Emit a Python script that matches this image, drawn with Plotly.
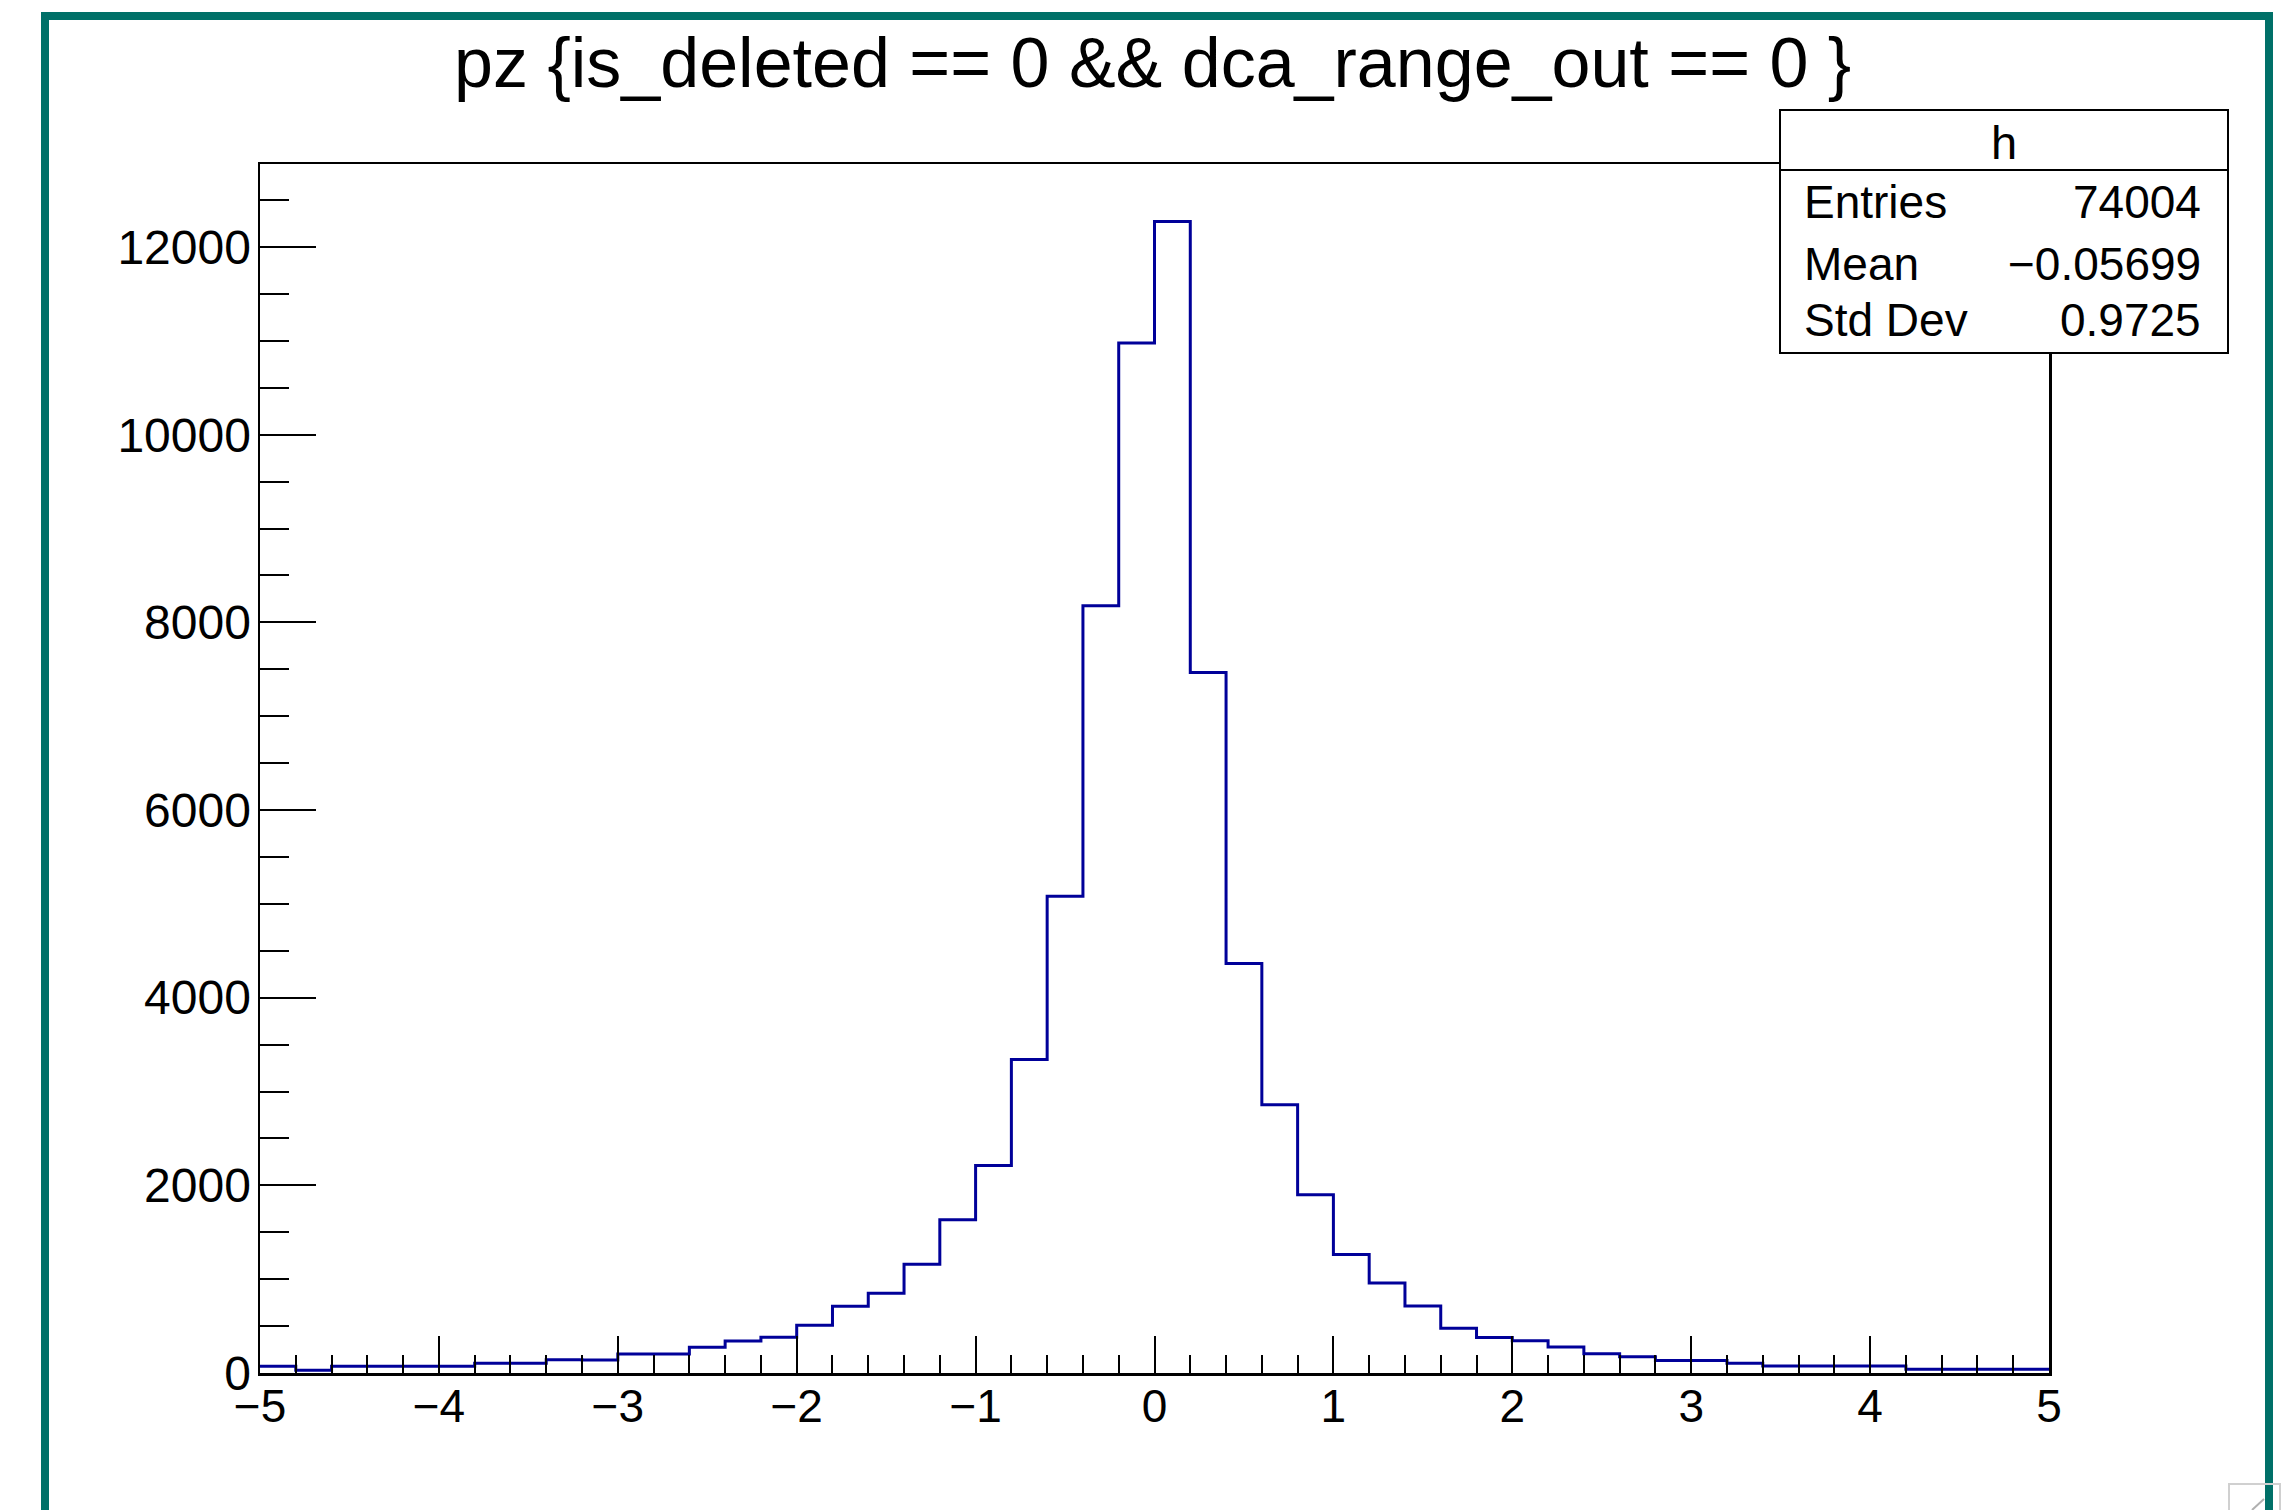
import numpy as np
import plotly.graph_objects as go

# ---------------- data ----------------
x_min, x_max, n_bins = -5.0, 5.0, 50
counts = [71, 28, 71, 71, 71, 71, 103, 103, 142, 138,
          202, 202, 275, 340, 380, 510, 712, 850, 1160, 1633,
          2212, 3340, 5080, 8178, 10978, 12272, 7466, 4364, 2858, 1900,
          1262, 958, 714, 477, 378, 343, 276, 205, 173, 134,
          134, 103, 74, 74, 74, 74, 39, 39, 39, 39]
title_text = "pz {is_deleted == 0 && dca_range_out == 0 }"
stats_name = "h"
stats_labels = ["Entries", "Mean", "Std Dev"]
stats_values = ["74004", "\u22120.05699", "0.9725"]
y_max = 12885

edges = np.linspace(x_min, x_max, n_bins + 1)
xs = list(edges[:-1]) + [edges[-1]]
ys = list(counts) + [counts[-1]]

# ---------------- geometry (pixels) ----------------
W, H = 2295, 1510
L, R, T, B = 260, 2049, 164, 1373
PW, PH = R - L, B - T


def px(x):
    return (x - L) / PW


def py(y):
    return (B - y) / PH


FONT = "Liberation Sans, Arial, Helvetica, sans-serif"
TEAL = "rgb(0,112,104)"

fig = go.Figure()
fig.add_trace(go.Scatter(x=xs, y=ys, mode="lines", line_shape="hv",
                         line=dict(color="#000099", width=3),
                         hoverinfo="skip", showlegend=False))

shapes = []
# teal outer frame
for (x0, y0, x1, y1) in [(41, 12, 49, 1530), (41, 12, 2273, 20), (2265, 12, 2273, 1530)]:
    shapes.append(dict(type="rect", xref="paper", yref="paper",
                       x0=px(x0), x1=px(x1), y0=py(y0), y1=py(y1),
                       fillcolor=TEAL, line=dict(width=0), layer="above"))
# stats box
sx0, sx1, sy0, sy1, sdiv = 1780, 2228, 110, 353, 170
shapes.append(dict(type="rect", xref="paper", yref="paper",
                   x0=px(sx0), x1=px(sx1), y0=py(sy0), y1=py(sy1),
                   fillcolor="white", line=dict(color="black", width=2), layer="above"))
shapes.append(dict(type="line", xref="paper", yref="paper",
                   x0=px(sx0), x1=px(sx1), y0=py(sdiv), y1=py(sdiv),
                   line=dict(color="black", width=2), layer="above"))
# small resize handle bottom-right
shapes.append(dict(type="rect", xref="paper", yref="paper",
                   x0=px(2229), x1=px(2280), y0=py(1484), y1=py(1530),
                   fillcolor="rgba(0,0,0,0)", line=dict(color="#d0d0d0", width=2), layer="above"))
shapes.append(dict(type="line", xref="paper", yref="paper",
                   x0=px(2252), x1=px(2264), y0=py(1510), y1=py(1499),
                   line=dict(color="#b0b0b0", width=2), layer="above"))

annotations = [
    dict(text=title_text, xref="paper", yref="paper", x=px(1152), y=py(63),
         xanchor="center", yanchor="middle", showarrow=False,
         font=dict(family=FONT, size=70, color="black")),
    dict(text=stats_name, xref="paper", yref="paper", x=px((sx0 + sx1) / 2), y=py(143),
         xanchor="center", yanchor="middle", showarrow=False,
         font=dict(family=FONT, size=47, color="black")),
]
row_y = [202, 264, 320]
for lab, val, yy in zip(stats_labels, stats_values, row_y):
    annotations.append(dict(text=lab, xref="paper", yref="paper", x=px(1802), y=py(yy),
                            xanchor="left", yanchor="middle", showarrow=False,
                            font=dict(family=FONT, size=46, color="black")))
    annotations.append(dict(text=val, xref="paper", yref="paper", x=px(2203), y=py(yy),
                            xanchor="right", yanchor="middle", showarrow=False,
                            font=dict(family=FONT, size=46, color="black")))

axis_common = dict(showline=True, linecolor="black", linewidth=2.5, mirror=True,
                   ticks="inside", tickcolor="black", tickwidth=2,
                   showgrid=False, zeroline=False)

fig.update_layout(
    width=W, height=H, autosize=False,
    margin=dict(l=L, r=W - R, t=T, b=H - B, pad=0),
    paper_bgcolor="white", plot_bgcolor="white",
    showlegend=False,
    xaxis=dict(range=[x_min, x_max], dtick=1, tick0=0, ticklen=37,
               ticklabelstandoff=-9,
               tickfont=dict(family=FONT, size=46, color="black"),
               minor=dict(ticks="inside", ticklen=18, tickwidth=2, tickcolor="black", dtick=0.2, tick0=0),
               **axis_common),
    yaxis=dict(range=[0, y_max], dtick=2000, tick0=0, ticklen=56, tickformat="d",
               ticklabelstandoff=-3,
               tickfont=dict(family=FONT, size=48, color="black"),
               minor=dict(ticks="inside", ticklen=29, tickwidth=2, tickcolor="black", dtick=500, tick0=0),
               **axis_common),
    shapes=shapes,
    annotations=annotations,
)

fig.write_html("out.html", config={"displayModeBar": False, "staticPlot": True},
               post_script="document.body.style.margin='0px';document.body.style.overflow='hidden';")
